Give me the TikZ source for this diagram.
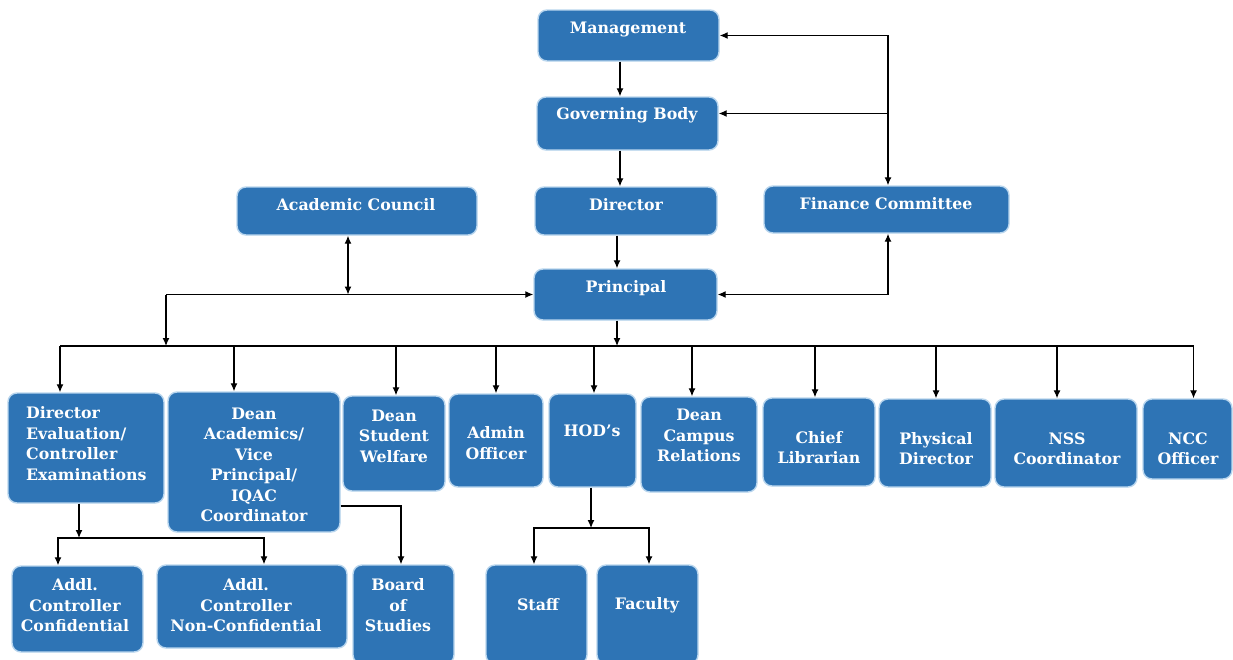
\documentclass[tikz,border=0pt]{standalone}
\usepackage{fontspec}
\setmainfont{DejaVu Serif}
\usetikzlibrary{arrows.meta}
\definecolor{boxblue}{RGB}{46,116,181}
\definecolor{boxedge}{RGB}{185,214,238}
\begin{document}
\begin{tikzpicture}[x=1pt,y=-1pt,
  orgbox/.style={draw=boxedge,line width=1.4pt,fill=boxblue,rounded corners=9pt,inner sep=0pt},
  txt/.style={text=white,font=\bfseries\fontsize{15.8}{20.5}\selectfont,align=center,inner sep=0pt},
  ltxt/.style={txt,align=left,anchor=west},
  link/.style={line width=1.2pt,draw=black},
  arr/.style={link,-{Latex[length=8pt,width=7pt]}},
  arrboth/.style={link,{Latex[length=8pt,width=7pt]}-{Latex[length=8pt,width=7pt]}}]
\clip (0,0) rectangle (1233,659);
\fill[white] (0,0) rectangle (1233,659);

% ---- top of the hierarchy
\node[orgbox,minimum width=181pt,minimum height=51pt] (mgmt) at (628.5,35.5) {};
\node[orgbox,minimum width=181pt,minimum height=53pt] (gb) at (627.5,123.5) {};
\node[orgbox,minimum width=182pt,minimum height=48pt] (dir) at (626,211) {};
\node[orgbox,minimum width=240pt,minimum height=48pt] (ac) at (357,211) {};
\node[orgbox,minimum width=245pt,minimum height=47pt] (fin) at (886.5,209.5) {};
\node[orgbox,minimum width=183pt,minimum height=51pt] (prin) at (625.5,294.5) {};

\node[txt] (mgmt-t) at (628,29) {Management};
\node[txt] (gb-t) at (627,115) {Governing Body};
\node[txt] (dir-t) at (626,205) {Director};
\node[txt] (ac-t) at (356,205) {Academic Council};
\node[txt] (fin-t) at (886,204) {Finance Committee};
\node[txt] (prin-t) at (626,288) {Principal};

% ---- second level
\node[orgbox,minimum width=156pt,minimum height=110pt] (deval) at (86,448) {};
\node[orgbox,minimum width=172pt,minimum height=140pt] (dacad) at (254,462) {};
\node[orgbox,minimum width=102pt,minimum height=95pt] (dsw) at (394,443.5) {};
\node[orgbox,minimum width=94pt,minimum height=93pt] (admin) at (496,440.5) {};
\node[orgbox,minimum width=87pt,minimum height=93pt] (hod) at (592.5,440.5) {};
\node[orgbox,minimum width=116pt,minimum height=95pt] (dcr) at (699,444.5) {};
\node[orgbox,minimum width=112pt,minimum height=88pt] (lib) at (819,442) {};
\node[orgbox,minimum width=112pt,minimum height=88pt] (pd) at (935,443) {};
\node[orgbox,minimum width=142pt,minimum height=88pt] (nss) at (1066,443) {};
\node[orgbox,minimum width=89pt,minimum height=80pt] (ncc) at (1187.5,439) {};

\node[ltxt] (deval-t) at (26,443.5) {Director\\Evaluation/\\Controller\\Examinations};
\node[txt] (dacad-t) at (254,465) {Dean\\Academics/\\Vice\\Principal/\\IQAC\\Coordinator};
\node[txt] (dsw-t) at (394,436) {Dean\\Student\\Welfare};
\node[txt] (admin-t) at (496,443) {Admin\\Officer};
\node[txt] (hod-t) at (592,431) {HOD’s};
\node[txt] (dcr-t) at (699,435.5) {Dean\\Campus\\Relations};
\node[txt] (lib-t) at (819,447.5) {Chief\\Librarian};
\node[txt] (pd-t) at (936,448.5) {Physical\\Director};
\node[txt] (nss-t) at (1067,448.5) {NSS\\Coordinator};
\node[txt] (ncc-t) at (1188,448.5) {NCC\\Officer};

% ---- third level
\node[orgbox,minimum width=131pt,minimum height=86pt] (acc) at (77.5,609) {};
\node[orgbox,minimum width=190pt,minimum height=83pt] (ancc) at (252,606.5) {};
\node[orgbox,minimum width=101pt,minimum height=99pt] (bos) at (403.5,614.5) {};
\node[orgbox,minimum width=101pt,minimum height=99pt] (staff) at (536.5,614.5) {};
\node[orgbox,minimum width=101pt,minimum height=99pt] (fac) at (647.5,614.5) {};

\node[txt] (acc-t) at (75,605.5) {Addl.\\Controller\\Confidential};
\node[txt] (ancc-t) at (246,605.5) {Addl.\\Controller\\Non-Confidential};
\node[txt] (bos-t) at (398,605.5) {Board\\of\\Studies};
\node[txt] (staff-t) at (538,605) {Staff};
\node[txt] (fac-t) at (647,605) {Faculty};

% ---- reference lines for the connectors
\coordinate (c620) at (620,0);
\coordinate (c617) at (617,0);
\coordinate (c888) at (888,0);
\coordinate (c348) at (348,0);
\coordinate (c166) at (166,0);
\coordinate (bus) at (0,346);
\coordinate (ctrl) at (0,538);
\coordinate (hodbus) at (0,528);
\coordinate (gbin) at ([yshift=10pt]gb.east);

% ---- chain of command at the top
\draw[arr] (mgmt.south -| c620) -- (gb.north -| c620);
\draw[arr] (gb.south -| c620) -- (dir.north -| c620);
\draw[arr] (dir.south -| c617) -- (prin.north -| c617);

% finance committee to management and governing body
\draw[arrboth] (fin.north -| c888) |- (mgmt.east);
\draw[arr] (c888 |- gbin) -- (gbin);
\draw[arrboth] (fin.south -| c888) |- (prin.east);

% academic council and principal
\draw[arr] (c166 |- prin.west) -- (prin.west);
\draw[arrboth] (ac.south -| c348) -- (c348 |- prin.west);
\draw[arr] (c166 |- prin.west) -- (c166 |- bus);

% principal to the department heads
\draw[arr] (prin.south -| c617) -- (c617 |- bus);
\draw[link] ([xshift=-26pt]deval.north |- bus) -- ([xshift=6pt]ncc.north |- bus);
\foreach \n/\dx in {deval/-26,dacad/-20,dsw/2,admin/0,hod/1.5,dcr/-7,lib/-4,pd/1,nss/-9,ncc/6}
  \draw[arr] ([xshift=\dx pt]\n.north |- bus) -- ([xshift=\dx pt]\n.north);

% examinations branch
\draw[arr] ([xshift=-7pt]deval.south) -- ([xshift=-7pt]deval.south |- ctrl);
\draw[arrboth] ([xshift=-19.5pt]acc.north) |- ([xshift=12pt]ancc.north |- ctrl) -- ([xshift=12pt]ancc.north);

% academics branch
\draw[arr] ([yshift=-44pt]dacad.east) -| ([xshift=-2.5pt]bos.north);

% departments branch
\draw[arr] ([xshift=-1.5pt]hod.south) -- ([xshift=-1.5pt]hod.south |- hodbus);
\draw[arrboth] ([xshift=-2.5pt]staff.north) |- ([xshift=1.5pt]fac.north |- hodbus) -- ([xshift=1.5pt]fac.north);
\end{tikzpicture}
\end{document}
